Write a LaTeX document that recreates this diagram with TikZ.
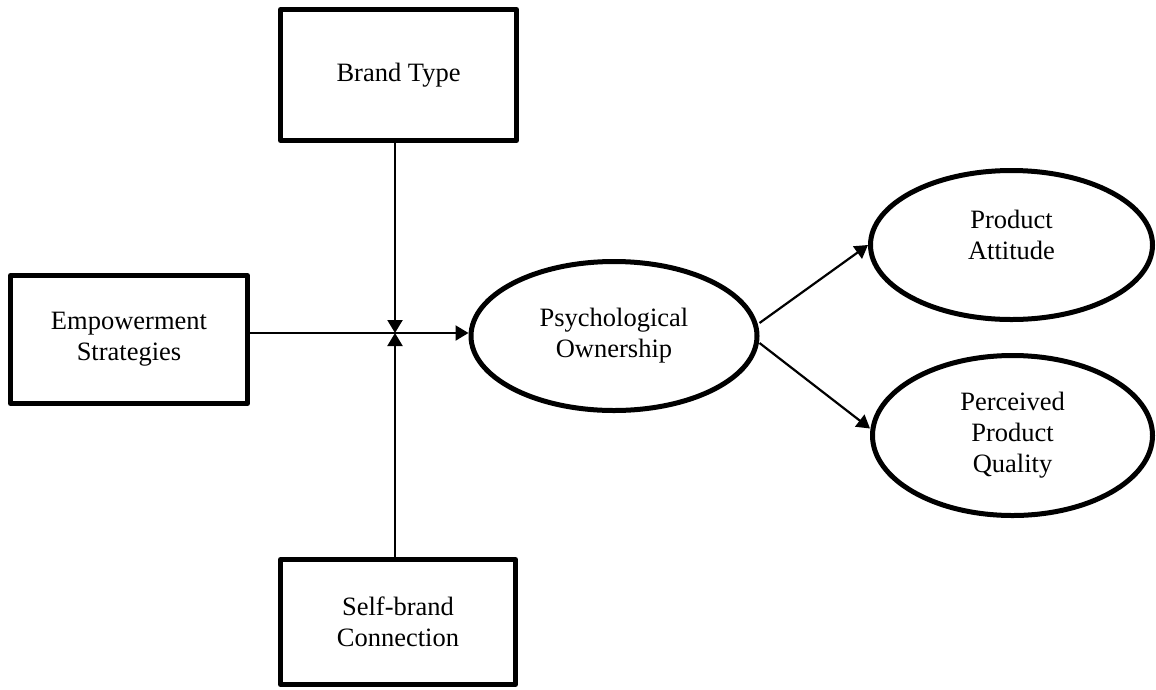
\documentclass[tikz,border=0pt]{standalone}
\usepackage{fontspec}
\setmainfont{Liberation Serif}
\usetikzlibrary{arrows.meta,shapes.geometric}
\tikzset{
  boxnode/.style={draw, line width=5pt, line join=round, rectangle, inner sep=0pt, align=center},
  ovalnode/.style={draw, line width=5pt, ellipse, inner sep=0pt, align=center},
  txt/.style={align=center, inner sep=0pt},
  arr/.style={line width=2.2pt, -{Triangle[length=13pt,width=15pt]}},
}
\begin{document}
\begin{tikzpicture}[x=1pt, y=-1pt,
  every node/.append style={font=\fontsize{26.5}{31}\selectfont}]
  \useasboundingbox (0,0) rectangle (1156,689);

  % moderators and predictor
  \node[boxnode, minimum width=236pt, minimum height=131pt] (bt) at (398.5,75) {Brand Type};
  \node[boxnode, minimum width=237pt, minimum height=128pt] (es) at (129,339.5) {Empowerment\\Strategies};
  \node[boxnode, minimum width=235pt, minimum height=125pt] (sb) at (398,622) {Self-brand\\Connection};

  % mediator and outcomes
  \node[ovalnode, minimum width=286pt, minimum height=149pt] (po) at (614,336) {Psychological\\Ownership};
  \node[ovalnode, minimum width=282pt, minimum height=149pt] (pa) at (1011.5,245) {};
  \node[txt] (pa-text) at (1011.5,235) {Product\\Attitude};
  \node[ovalnode, minimum width=280pt, minimum height=160pt] (pq) at (1012.5,435.5) {Perceived\\Product\\Quality};

  % junction where the moderating paths meet the main path
  \coordinate (j) at (395,333);

  \draw[line width=2.2pt] (es.east |- j) -- (j);
  \draw[arr] (j) -- (j -| po.west);
  \draw[arr] (bt.south -| j) -- (j);
  \draw[arr] (sb.north -| j) -- (j);

  \draw[arr] ([yshift=13pt]po.east) -- (pa.west);
  \draw[arr] ([yshift=-7pt]po.east) -- ([yshift=7pt]pq.west);
\end{tikzpicture}
\end{document}
